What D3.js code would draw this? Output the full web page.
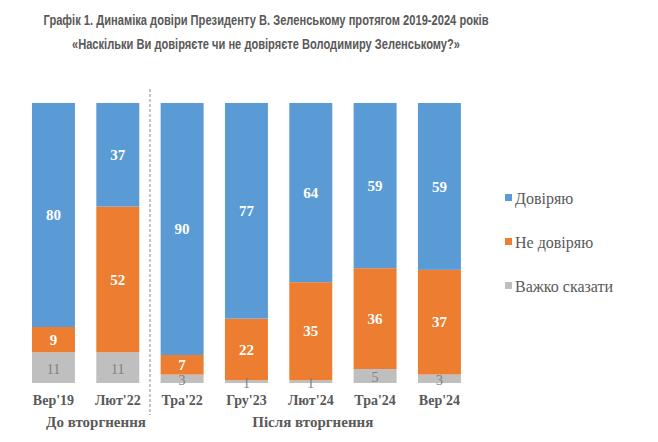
<!DOCTYPE html>
<html><head><meta charset="utf-8">
<script src="https://cdn.jsdelivr.net/npm/d3@7"></script>
<style>body{margin:0;background:#fff}</style>
</head><body>
<svg id="c" width="658" height="442"></svg>
<script>
const categories = ["Вер'19","Лют'22","Тра'22","Гру'23","Лют'24","Тра'24","Вер'24"];
const trust    = [80,37,90,77,64,59,59];
const distrust = [9,52,7,22,35,36,37];
const hard     = [11,11,3,1,1,5,3];
const seriesNames = ["Довіряю","Не довіряю","Важко сказати"];
const colors = ["#5B9BD5","#ED7D31","#BFBFBF"];
const groups = [{label:"До вторгнення", from:0, to:1},{label:"Після вторгнення", from:2, to:6}];
const titleLines = ["Графік 1. Динаміка довіри Президенту В. Зеленському протягом 2019-2024 років",
                    "«Наскільки Ви довіряєте чи не довіряєте Володимиру Зеленському?»"];

const SERIF = "'Liberation Serif','Times New Roman',serif";
const SANS = "'Liberation Sans',Arial,sans-serif";

const data = categories.map((c,i)=>({cat:c, hard:hard[i], distrust:distrust[i], trust:trust[i]}));
const keys = ["hard","distrust","trust"];
const colorOf = {trust:colors[0], distrust:colors[1], hard:colors[2]};

const svg = d3.select("#c");
const x = d3.scaleBand().domain(categories).range([21.3,471.6]).paddingInner(0.332).paddingOuter(0.166);
const y = d3.scaleLinear().domain([0,1]).range([383,103]);

const stack = d3.stack().keys(keys).offset(d3.stackOffsetExpand);
const layers = stack(data);

// title
svg.selectAll("text.title").data(titleLines).join("text")
  .style("font-family",SANS)
  .attr("x",266).attr("y",(d,i)=>25+i*24)
  .attr("text-anchor","middle")
  .attr("textLength",(d,i)=>i===0?445:388).attr("lengthAdjust","spacingAndGlyphs")
  .attr("font-weight","bold")
  .attr("font-size",14).attr("fill","#595959").text(d=>d);

// bars
layers.forEach(layer=>{
  svg.append("g").selectAll("rect").data(layer).join("rect")
    .attr("x",d=>x(d.data.cat)).attr("width",x.bandwidth())
    .attr("y",d=>y(d[1])).attr("height",d=>y(d[0])-y(d[1]))
    .attr("fill",colorOf[layer.key]);
});

// labels
layers.forEach(layer=>{
  const isHard = layer.key==="hard";
  svg.append("g").selectAll("text").data(layer).join("text")
    .style("font-family",SERIF)
    .attr("x",d=>x(d.data.cat)+x.bandwidth()/2)
    .attr("y",d=>(y(d[0])+y(d[1]))/2 + (isHard?1:0))
    .attr("dy","0.35em")
    .attr("text-anchor","middle")
    .attr("font-size",isHard?14:15)
    .attr("font-weight",isHard?"normal":"bold")
    .attr("fill",isHard?"#7F7F7F":"#fff")
    .text(d=>d.data[layer.key]);
});

// divider
const divX = (x(categories[1])+x.bandwidth() + x(categories[2]))/2;
svg.append("line").attr("x1",divX).attr("x2",divX).attr("y1",89).attr("y2",415)
  .attr("stroke","#A6A6A6").attr("stroke-width",1.3).attr("stroke-dasharray","3,2");

// category axis
const xAxis = d3.axisBottom(x).tickSize(0).tickPadding(0);
const ax = svg.append("g").attr("transform","translate(0,394)").call(xAxis);
ax.select(".domain").remove();
ax.selectAll("text").style("font-family",SERIF)
  .attr("font-size",14).attr("font-weight","bold").attr("fill","#595959").attr("dy","0.8em");

// group labels
svg.selectAll("text.grp").data(groups).join("text")
  .style("font-family",SERIF)
  .attr("x",(d,i)=> i===0 ? 96 : (x(categories[d.from])+x(categories[d.to])+x.bandwidth())/2+2)
  .attr("y",427).attr("text-anchor","middle")
  .attr("font-size",15).attr("font-weight","bold").attr("fill","#595959")
  .text(d=>d.label);

// legend
const lg = svg.append("g");
seriesNames.forEach((n,i)=>{
  const yy = 198 + i*44;
  lg.append("rect").attr("x",505).attr("y",yy-4).attr("width",7).attr("height",7).attr("fill",colors[i]);
  lg.append("text").style("font-family",SERIF).attr("x",515).attr("y",yy).attr("dy","0.35em")
    .attr("font-size",16)
    .attr("fill","#595959").text(n);
});
</script>
</body></html>
